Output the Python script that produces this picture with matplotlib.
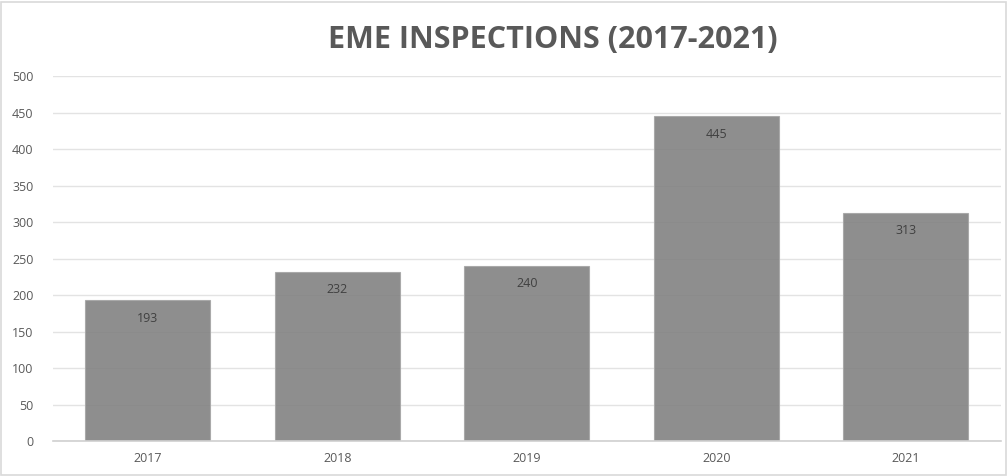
import matplotlib
matplotlib.use("Agg")
import matplotlib.pyplot as plt
from matplotlib.patches import Rectangle

years = ['2017', '2018', '2019', '2020', '2021']
inspections = [193, 232, 240, 445, 313]
yticks = [0, 50, 100, 150, 200, 250, 300, 350, 400, 450, 500]

plt.rcParams['font.family'] = ['Open Sans', 'DejaVu Sans']

fig = plt.figure(figsize=(10.08, 4.76), dpi=100)
ax = fig.add_axes([0.0526, 0.0735, 0.940, 0.7668])

x = range(len(years))
bars = ax.bar(x, inspections, width=0.66, color='#7f7f7f', alpha=0.88,
              edgecolor='#a6a6a6', linewidth=0.8, zorder=2)

# value labels inside the top of each bar
for i, v in enumerate(inspections):
    ax.text(i, v - 16, str(v), ha='center', va='top', fontsize=9, color='#404040', zorder=3)

ax.set_xlim(-0.5, len(years) - 0.5)
ax.set_ylim(0, 500)
ax.set_yticks(yticks)
ax.set_xticks(list(x))
ax.set_xticklabels(years)
ax.tick_params(axis='both', length=0, labelsize=9, colors='#595959')
ax.tick_params(axis='y', pad=14)
ax.tick_params(axis='x', pad=8)
ax.grid(axis='y', color='#e3e3e3', linewidth=1, zorder=1)
for s in ['top', 'right', 'left']:
    ax.spines[s].set_visible(False)
ax.spines['bottom'].set_color('#d0d0d0')
ax.spines['bottom'].set_linewidth(1.2)

fig.text(0.548, 0.915, 'EME INSPECTIONS (2017-2021)', ha='center', va='center',
         fontsize=22, fontweight='bold', color='#595959')

fig.patches.append(Rectangle((0.001, 0.002), 0.997, 0.994, transform=fig.transFigure,
                             fill=False, edgecolor='#d9d9d9', linewidth=1.2))

fig.savefig('out.png', dpi=100)
